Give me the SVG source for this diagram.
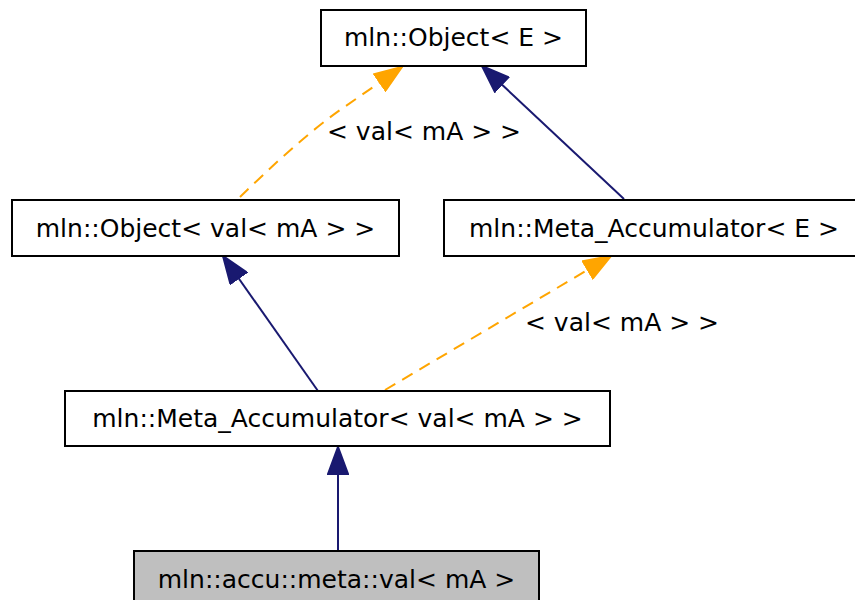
<svg xmlns="http://www.w3.org/2000/svg" width="855" height="600" viewBox="0 0 855 600">
<style>
.box{fill:#fff;stroke:#000;stroke-width:2}
.leaf{fill:#bfbfbf;stroke:#000;stroke-width:2}
text{font-family:"DejaVu Sans",sans-serif;font-size:25px;fill:#000}
.inh{fill:none;stroke:#191970;stroke-width:2}
.tpl{fill:none;stroke:#ffa500;stroke-width:2;stroke-dasharray:12,8}
</style>
<defs>
<marker id="ah-navy" markerUnits="userSpaceOnUse" markerWidth="30" markerHeight="22" refX="28" refY="11" orient="auto" viewBox="0 0 30 22">
<path d="M1,1 L28,11 L1,21 z" fill="#191970" stroke="#191970" stroke-width="2"/>
</marker>
<marker id="ah-orange" markerUnits="userSpaceOnUse" markerWidth="30" markerHeight="22" refX="28" refY="11" orient="auto" viewBox="0 0 30 22">
<path d="M1,1 L28,11 L1,21 z" fill="#ffa500" stroke="#ffa500" stroke-width="2"/>
</marker>
</defs>
<rect width="855" height="600" fill="#fff"/>
<g id="edges">
<path class="tpl" d="M240,197 C270,168 305,135 340,110 L402,67" marker-end="url(#ah-orange)"/>
<text x="424" y="140" text-anchor="middle">&lt; val&lt; mA &gt; &gt;</text>
<path class="inh" d="M624,199 L482,66" marker-end="url(#ah-navy)"/>
<path class="inh" d="M318,391 L223,256" marker-end="url(#ah-navy)"/>
<path class="tpl" d="M385,390 L611,256" marker-end="url(#ah-orange)"/>
<text x="622" y="331" text-anchor="middle">&lt; val&lt; mA &gt; &gt;</text>
<path class="inh" d="M338,550 L338,447" marker-end="url(#ah-navy)"/>
</g>
<g id="node-object-E">
<rect class="box" x="321" y="10" width="265" height="56"/>
<text x="453.5" y="46" text-anchor="middle">mln::Object&lt; E &gt;</text>
</g>
<g id="node-object-val">
<rect class="box" x="12" y="200" width="387" height="56"/>
<text x="205.5" y="237" text-anchor="middle">mln::Object&lt; val&lt; mA &gt; &gt;</text>
</g>
<g id="node-meta-E">
<rect class="box" x="444" y="200" width="420" height="56"/>
<text x="654" y="237" text-anchor="middle">mln::Meta_Accumulator&lt; E &gt;</text>
</g>
<g id="node-meta-val">
<rect class="box" x="65" y="391" width="545" height="55"/>
<text x="337.5" y="427" text-anchor="middle">mln::Meta_Accumulator&lt; val&lt; mA &gt; &gt;</text>
</g>
<g id="node-val">
<rect class="leaf" x="134" y="551" width="405" height="56"/>
<text x="336.5" y="588" text-anchor="middle">mln::accu::meta::val&lt; mA &gt;</text>
</g>
</svg>
